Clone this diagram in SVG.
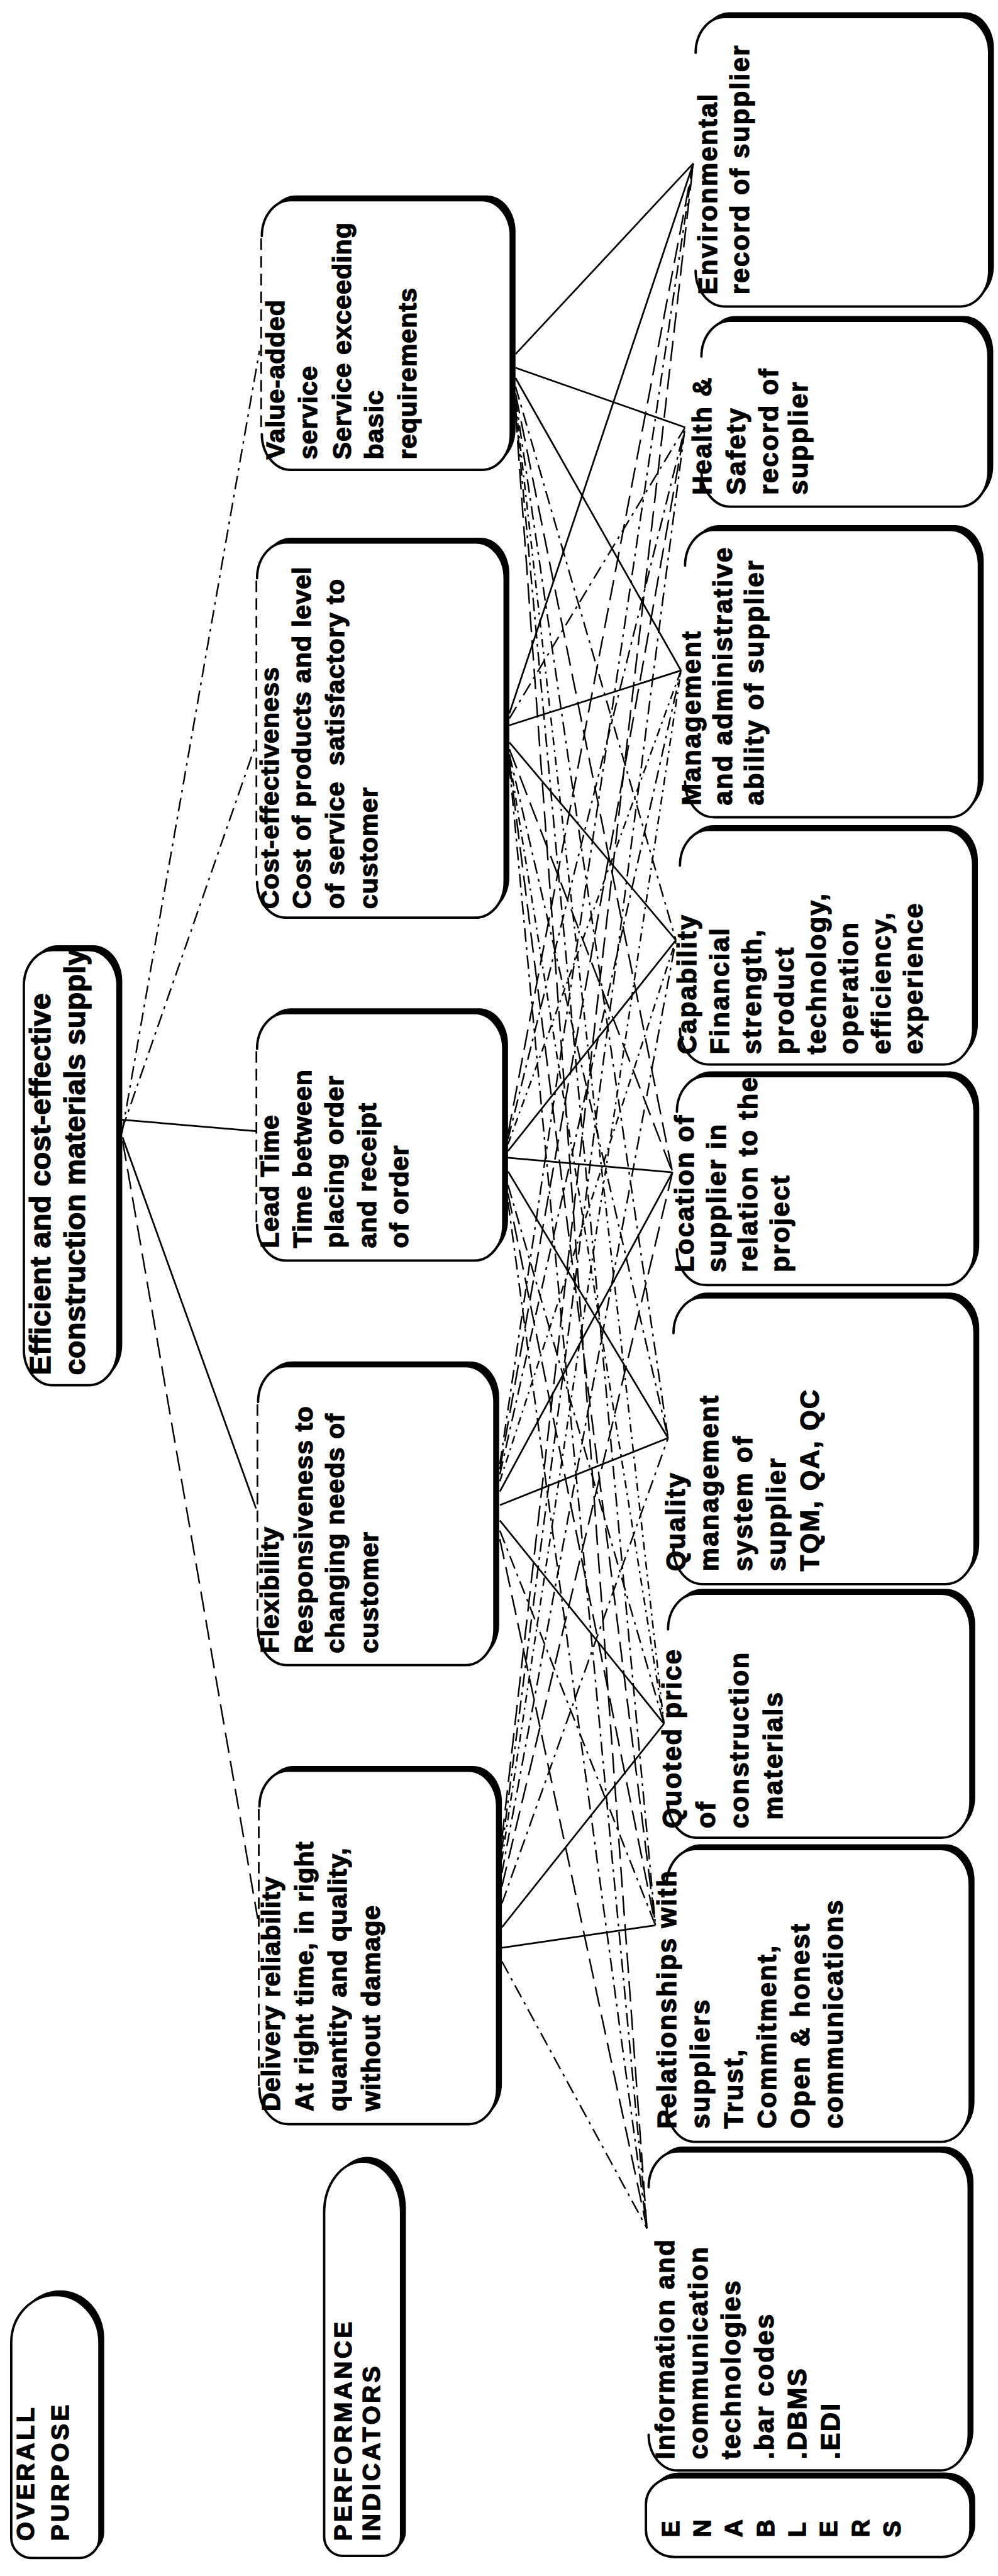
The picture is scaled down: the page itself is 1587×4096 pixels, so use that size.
<svg xmlns="http://www.w3.org/2000/svg" width="1587" height="4096" viewBox="0 0 1587 4096">
<style>
  .sh{fill:#000}
  .bx{fill:#fff;stroke:#000;stroke-width:7;stroke-linecap:round}
  .le{stroke:#000;stroke-width:5;fill:none;stroke-dasharray:34 18}
  .t{font-family:"Liberation Sans",Arial,Helvetica,sans-serif;font-weight:bold;fill:#000;stroke:#000;stroke-width:2.5px}
  .pi{font-size:76px;letter-spacing:2px}
  .en{font-size:77px;letter-spacing:4.5px}
  .hd{font-size:72px;letter-spacing:8px}
  .tp{font-size:86px;letter-spacing:1px}
  .s{stroke:#000;stroke-width:5;fill:none}
  .d1{stroke:#000;stroke-width:4.5;fill:none;stroke-dasharray:40 16 8 16}
  .d2{stroke:#000;stroke-width:4.5;fill:none;stroke-dasharray:60 24}
  .d3{stroke:#000;stroke-width:4.5;fill:none;stroke-dasharray:24 14 6 14}
</style>
<rect width="1587" height="4096" fill="#fff"/>
<g transform="scale(0.54145)">

<!-- connectors -->
<g id="connectors">
  <!-- overall purpose to performance indicators -->
  <line class="d1" x1="358" y1="3328" x2="762" y2="1030"/>
  <line class="d1" x1="358" y1="3318" x2="750" y2="2190"/>
  <line class="s" x1="356" y1="3288" x2="752" y2="3322"/>
  <line class="s" x1="360" y1="3340" x2="752" y2="4430"/>
  <line class="d2" x1="360" y1="3350" x2="757" y2="5635"/>
  <!-- value-added service -->
  <line class="s" x1="1514" y1="1040" x2="2036" y2="480"/>
  <line class="s" x1="1514" y1="1080" x2="2012" y2="1255"/>
  <line class="s" x1="1514" y1="1110" x2="2000" y2="1969"/>
  <line class="d1" x1="1514" y1="1135" x2="1985" y2="2761"/>
  <line class="d2" x1="1514" y1="1155" x2="1975" y2="3443"/>
  <line class="d1" x1="1514" y1="1170" x2="1962" y2="4223"/>
  <line class="d3" x1="1514" y1="1185" x2="1950" y2="5062"/>
  <line class="d1" x1="1514" y1="1198" x2="1925" y2="5654"/>
  <line class="d2" x1="1514" y1="1210" x2="1900" y2="6544"/>
  <!-- cost-effectiveness -->
  <line class="s" x1="1496" y1="2095" x2="2036" y2="480"/>
  <line class="d1" x1="1496" y1="2110" x2="2012" y2="1255"/>
  <line class="s" x1="1496" y1="2130" x2="2000" y2="1969"/>
  <line class="s" x1="1496" y1="2180" x2="1985" y2="2761"/>
  <line class="d2" x1="1496" y1="2200" x2="1975" y2="3443"/>
  <line class="d1" x1="1496" y1="2215" x2="1962" y2="4223"/>
  <line class="d3" x1="1496" y1="2228" x2="1950" y2="5062"/>
  <line class="d2" x1="1496" y1="2238" x2="1925" y2="5654"/>
  <line class="d1" x1="1496" y1="2248" x2="1900" y2="6544"/>
  <!-- lead time -->
  <line class="d2" x1="1492" y1="3330" x2="2036" y2="480"/>
  <line class="d1" x1="1492" y1="3345" x2="2012" y2="1255"/>
  <line class="d3" x1="1492" y1="3360" x2="2000" y2="1969"/>
  <line class="s" x1="1492" y1="3380" x2="1985" y2="2761"/>
  <line class="s" x1="1492" y1="3400" x2="1975" y2="3443"/>
  <line class="s" x1="1492" y1="3440" x2="1962" y2="4223"/>
  <line class="d1" x1="1492" y1="3480" x2="1950" y2="5062"/>
  <line class="d2" x1="1492" y1="3505" x2="1925" y2="5654"/>
  <line class="d1" x1="1492" y1="3530" x2="1900" y2="6544"/>
  <!-- flexibility -->
  <line class="d1" x1="1468" y1="4300" x2="2036" y2="480"/>
  <line class="d2" x1="1468" y1="4315" x2="2012" y2="1255"/>
  <line class="d1" x1="1468" y1="4330" x2="2000" y2="1969"/>
  <line class="d3" x1="1468" y1="4350" x2="1985" y2="2761"/>
  <line class="s" x1="1468" y1="4380" x2="1975" y2="3443"/>
  <line class="s" x1="1468" y1="4420" x2="1962" y2="4223"/>
  <line class="s" x1="1468" y1="4465" x2="1950" y2="5062"/>
  <line class="d1" x1="1468" y1="4495" x2="1925" y2="5654"/>
  <line class="d2" x1="1468" y1="4520" x2="1900" y2="6544"/>
  <!-- delivery reliability -->
  <line class="d2" x1="1474" y1="5400" x2="2036" y2="480"/>
  <line class="d1" x1="1474" y1="5430" x2="2012" y2="1255"/>
  <line class="d3" x1="1474" y1="5460" x2="2000" y2="1969"/>
  <line class="d1" x1="1474" y1="5500" x2="1985" y2="2761"/>
  <line class="d2" x1="1474" y1="5540" x2="1975" y2="3443"/>
  <line class="d1" x1="1474" y1="5590" x2="1962" y2="4223"/>
  <line class="s" x1="1474" y1="5660" x2="1950" y2="5062"/>
  <line class="s" x1="1474" y1="5720" x2="1925" y2="5654"/>
  <line class="d1" x1="1474" y1="5760" x2="1900" y2="6544"/>
</g>

<!-- row labels -->
<g id="label-overall">
  <path class="sh" transform="translate(14,-14)" d="M162,6740 H163 A129 140 0 0 1 292,6880 V7452 A60 60 0 0 1 232,7512 H93 A60 60 0 0 1 33,7452 V6880 A129 140 0 0 1 162,6740 Z"/>
  <path class="bx" d="M162,6740 H163 A129 140 0 0 1 292,6880 V7452 A60 60 0 0 1 232,7512 H93 A60 60 0 0 1 33,7452 V6880 A129 140 0 0 1 162,6740 Z"/>
  <text class="t hd" transform="translate(0 7462) rotate(-90)"><tspan x="0" y="100">OVERALL</tspan><tspan x="0" y="201">PURPOSE</tspan></text>
</g>
<g id="label-indicators">
  <path class="sh" transform="translate(14,-14)" d="M1065,6348 A113 150 0 0 1 1178,6498 V7450 A56 56 0 0 1 1122,7506 H1008 A56 56 0 0 1 952,7450 V6498 A113 150 0 0 1 1065,6348 Z"/>
  <path class="bx" d="M1065,6348 A113 150 0 0 1 1178,6498 V7450 A56 56 0 0 1 1122,7506 H1008 A56 56 0 0 1 952,7450 V6498 A113 150 0 0 1 1065,6348 Z"/>
  <text class="t hd" transform="translate(0 7462) rotate(-90)"><tspan x="0" y="1033">PERFORMANCE</tspan><tspan x="0" y="1115">INDICATORS</tspan></text>
</g>
<g id="label-enablers">
  <rect class="sh" x="1911" y="7261" width="953" height="234" rx="84" ry="80"/>
  <rect class="bx" x="1897" y="7275" width="953" height="234" rx="84" ry="80"/>
  <text class="t hd" style="letter-spacing:0" transform="translate(0 7451) rotate(-90)"><tspan x="0" y="1994">E</tspan><tspan x="0" y="2087">N</tspan><tspan x="0" y="2180">A</tspan><tspan x="0" y="2273">B</tspan><tspan x="0" y="2366">L</tspan><tspan x="0" y="2459">E</tspan><tspan x="0" y="2552">R</tspan><tspan x="0" y="2645">S</tspan></text>
</g>

<!-- overall purpose -->
<g id="node-purpose">
  <rect class="sh" x="84" y="2776" width="275" height="1278" rx="85" ry="105"/>
  <rect class="bx" x="70" y="2790" width="275" height="1278" rx="85" ry="105"/>
  <text class="t tp" transform="translate(0 4038) rotate(-90)"><tspan x="0" y="148">Efficient and cost-effective</tspan><tspan x="0" y="250">construction materials supply</tspan></text>
</g>

<!-- performance indicators: dashed left edge beside the first line -->
<g id="pi-value-added">
  <rect class="sh" x="783" y="574" width="731" height="792" rx="85" ry="105"/>
  <path class="bx" d="M769,1275 A85 105 0 0 0 854,1380 H1415 A85 105 0 0 0 1500,1275 V693 A85 105 0 0 0 1415,588 H854 A85 105 0 0 0 769,693"/>
  <line class="le" x1="767" y1="700" x2="767" y2="1270"/>
  <text class="t pi" transform="translate(0 1349) rotate(-90)"><tspan x="0" y="835">Value-added</tspan><tspan x="0" y="930">service</tspan><tspan x="0" y="1030">Service exceeding</tspan><tspan x="0" y="1125">basic</tspan><tspan x="0" y="1222">requirements</tspan></text>
</g>
<g id="pi-cost">
  <rect class="sh" x="769" y="1579" width="727" height="1102" rx="85" ry="105"/>
  <path class="bx" d="M755,2590 A85 105 0 0 0 840,2695 H1397 A85 105 0 0 0 1482,2590 V1698 A85 105 0 0 0 1397,1593 H840 A85 105 0 0 0 755,1698"/>
  <line class="le" x1="753" y1="1705" x2="753" y2="2585"/>
  <text class="t pi" transform="translate(0 2669) rotate(-90)"><tspan x="0" y="818">Cost-effectiveness</tspan><tspan x="0" y="912">Cost of products and level</tspan><tspan x="0" y="1010">of service&#160; satisfactory to</tspan><tspan x="0" y="1108">customer</tspan></text>
</g>
<g id="pi-lead-time">
  <rect class="sh" x="769" y="2961" width="723" height="727" rx="85" ry="105"/>
  <path class="bx" d="M755,3597 A85 105 0 0 0 840,3702 H1393 A85 105 0 0 0 1478,3597 V3080 A85 105 0 0 0 1393,2975 H840 A85 105 0 0 0 755,3080"/>
  <line class="le" x1="753" y1="3087" x2="753" y2="3592"/>
  <text class="t pi" transform="translate(0 3665) rotate(-90)"><tspan x="0" y="818">Lead Time</tspan><tspan x="0" y="915">Time between</tspan><tspan x="0" y="1008">placing order</tspan><tspan x="0" y="1105">and receipt</tspan><tspan x="0" y="1199">of order</tspan></text>
</g>
<g id="pi-flexibility">
  <rect class="sh" x="772" y="3998" width="694" height="878" rx="85" ry="105"/>
  <path class="bx" d="M758,4785 A85 105 0 0 0 843,4890 H1367 A85 105 0 0 0 1452,4785 V4117 A85 105 0 0 0 1367,4012 H843 A85 105 0 0 0 758,4117"/>
  <line class="le" x1="756" y1="4124" x2="756" y2="4780"/>
  <text class="t pi" transform="translate(0 4855) rotate(-90)"><tspan x="0" y="818">Flexibility</tspan><tspan x="0" y="918">Responsiveness to</tspan><tspan x="0" y="1010">changing needs of</tspan><tspan x="0" y="1110">customer</tspan></text>
</g>
<g id="pi-delivery">
  <rect class="sh" x="776" y="5186" width="698" height="1038" rx="85" ry="105"/>
  <path class="bx" d="M762,6133 A85 105 0 0 0 847,6238 H1375 A85 105 0 0 0 1460,6133 V5305 A85 105 0 0 0 1375,5200 H847 A85 105 0 0 0 762,5305"/>
  <line class="le" x1="760" y1="5312" x2="760" y2="6128"/>
  <text class="t pi" transform="translate(0 6200) rotate(-90)"><tspan x="0" y="822">Delivery reliability</tspan><tspan x="0" y="920">At right time, in right</tspan><tspan x="0" y="1018">quantity and quality,</tspan><tspan x="0" y="1115">without damage</tspan></text>
</g>

<!-- enablers -->
<g id="en-environmental">
  <rect class="sh" x="2057" y="36" width="862" height="850" rx="85" ry="105"/>
  <path class="bx" d="M2043,795 A85 105 0 0 0 2128,900 H2820 A85 105 0 0 0 2905,795 V155 A85 105 0 0 0 2820,50 H2128 A85 105 0 0 0 2043,155"/>
  <text class="t en" transform="translate(0 865) rotate(-90)"><tspan x="0" y="2105">Environmental</tspan><tspan x="0" y="2200">record of supplier</tspan></text>
</g>
<g id="en-health-safety">
  <rect class="sh" x="2074" y="928" width="843" height="546" rx="85" ry="105"/>
  <path class="bx" d="M2060,1383 A85 105 0 0 0 2145,1488 H2818 A85 105 0 0 0 2903,1383 V1047 A85 105 0 0 0 2818,942 H2145 A85 105 0 0 0 2060,1047"/>
  <text class="t en" transform="translate(0 1453) rotate(-90)"><tspan x="0" y="2088">Health &amp;</tspan><tspan x="0" y="2188">Safety</tspan><tspan x="0" y="2284">record of</tspan><tspan x="0" y="2372">supplier</tspan></text>
</g>
<g id="en-management">
  <rect class="sh" x="2026" y="1542" width="863" height="844" rx="85" ry="105"/>
  <path class="bx" d="M2012,2295 A85 105 0 0 0 2097,2400 H2790 A85 105 0 0 0 2875,2295 V1661 A85 105 0 0 0 2790,1556 H2097 A85 105 0 0 0 2012,1661"/>
  <text class="t en" transform="translate(0 2365) rotate(-90)"><tspan x="0" y="2057">Management</tspan><tspan x="0" y="2150">and administrative</tspan><tspan x="0" y="2243">ability of supplier</tspan></text>
</g>
<g id="en-capability">
  <rect class="sh" x="2011" y="2423" width="861" height="689" rx="85" ry="105"/>
  <path class="bx" d="M1997,3021 A85 105 0 0 0 2082,3126 H2773 A85 105 0 0 0 2858,3021 V2542 A85 105 0 0 0 2773,2437 H2082 A85 105 0 0 0 1997,2542"/>
  <text class="t en" transform="translate(0 3096) rotate(-90)"><tspan x="0" y="2045">Capability</tspan><tspan x="0" y="2140">Financial</tspan><tspan x="0" y="2235">strength,</tspan><tspan x="0" y="2330">product</tspan><tspan x="0" y="2425">technology,</tspan><tspan x="0" y="2520">operation</tspan><tspan x="0" y="2615">efficiency,</tspan><tspan x="0" y="2710">experience</tspan></text>
</g>
<g id="en-location">
  <rect class="sh" x="2002" y="3146" width="874" height="614" rx="85" ry="105"/>
  <path class="bx" d="M1988,3669 A85 105 0 0 0 2073,3774 H2777 A85 105 0 0 0 2862,3669 V3265 A85 105 0 0 0 2777,3160 H2073 A85 105 0 0 0 1988,3265"/>
  <text class="t en" transform="translate(0 3736) rotate(-90)"><tspan x="0" y="2038">Location of</tspan><tspan x="0" y="2131">supplier in</tspan><tspan x="0" y="2224">relation to the</tspan><tspan x="0" y="2317">project</tspan></text>
</g>
<g id="en-quality">
  <rect class="sh" x="1992" y="3796" width="884" height="842" rx="85" ry="105"/>
  <path class="bx" d="M1978,4547 A85 105 0 0 0 2063,4652 H2777 A85 105 0 0 0 2862,4547 V3915 A85 105 0 0 0 2777,3810 H2063 A85 105 0 0 0 1978,3915"/>
  <text class="t en" transform="translate(0 4614) rotate(-90)"><tspan x="0" y="2012">Quality</tspan><tspan x="0" y="2110">management</tspan><tspan x="0" y="2208">system of</tspan><tspan x="0" y="2306">supplier</tspan><tspan x="0" y="2404">TQM, QA, QC</tspan></text>
</g>
<g id="en-quoted-price">
  <rect class="sh" x="1976" y="4666" width="888" height="717" rx="85" ry="105"/>
  <path class="bx" d="M1962,5292 A85 105 0 0 0 2047,5397 H2765 A85 105 0 0 0 2850,5292 V4785 A85 105 0 0 0 2765,4680 H2047 A85 105 0 0 0 1962,4785"/>
  <text class="t en" transform="translate(0 5369) rotate(-90)"><tspan x="0" y="2000">Quoted price</tspan><tspan x="0" y="2099">of</tspan><tspan x="0" y="2198">construction</tspan><tspan x="25" y="2297">materials</tspan></text>
</g>
<g id="en-relationships">
  <rect class="sh" x="1972" y="5416" width="890" height="860" rx="85" ry="105"/>
  <path class="bx" d="M1958,6185 A85 105 0 0 0 2043,6290 H2763 A85 105 0 0 0 2848,6185 V5535 A85 105 0 0 0 2763,5430 H2043 A85 105 0 0 0 1958,5535"/>
  <text class="t en" transform="translate(0 6251) rotate(-90)"><tspan x="0" y="1985">Relationships with</tspan><tspan x="0" y="2083">suppliers</tspan><tspan x="0" y="2181">Trust,</tspan><tspan x="0" y="2279">Commitment,</tspan><tspan x="0" y="2377">Open &amp; honest</tspan><tspan x="0" y="2475">communications</tspan></text>
</g>
<g id="en-ict">
  <rect class="sh" x="1919" y="6304" width="940" height="937" rx="85" ry="105"/>
  <path class="bx" d="M1905,7150 A85 105 0 0 0 1990,7255 H2760 A85 105 0 0 0 2845,7150 V6423 A85 105 0 0 0 2760,6318 H1990 A85 105 0 0 0 1905,6423"/>
  <text class="t en" transform="translate(0 7222) rotate(-90)"><tspan x="0" y="1980">Information and</tspan><tspan x="0" y="2077">communication</tspan><tspan x="0" y="2174">technologies</tspan><tspan x="0" y="2271">.bar codes</tspan><tspan x="0" y="2368">.DBMS</tspan><tspan x="0" y="2465">.EDI</tspan></text>
</g>

</g>
</svg>
